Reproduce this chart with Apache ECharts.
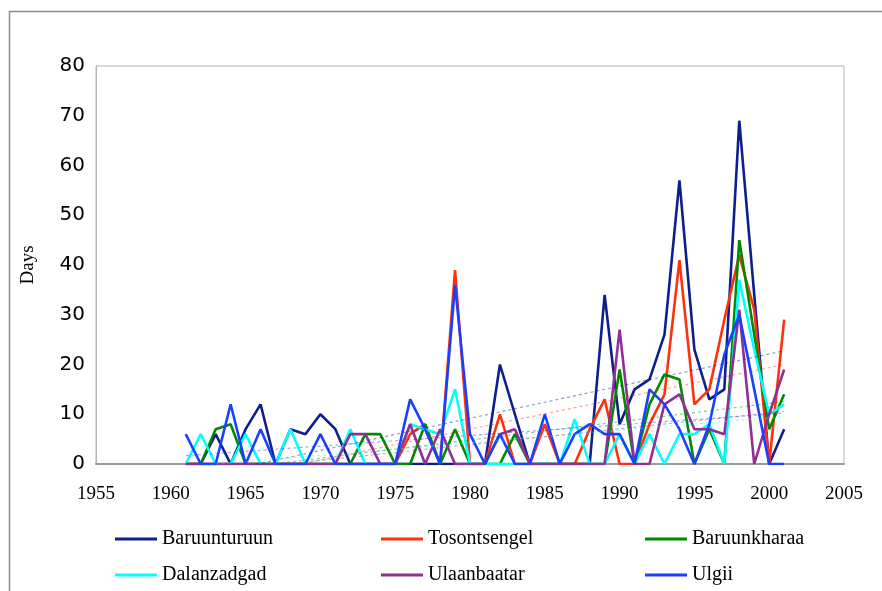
<!DOCTYPE html>
<html>
<head>
<meta charset="utf-8">
<script src="https://cdn.jsdelivr.net/npm/echarts@6/dist/echarts.min.js"></script>
<style>
  html, body { margin: 0; padding: 0; background: #fff; }
  #chart { width: 882px; height: 591px; }
</style>
</head>
<body>
<div id="chart"></div>
<script>
// Years of record (x axis)
const years = [1961, 1962, 1963, 1964, 1965, 1966, 1967, 1968, 1969, 1970,
  1971, 1972, 1973, 1974, 1975, 1976, 1977, 1978, 1979, 1980,
  1981, 1982, 1983, 1984, 1985, 1986, 1987, 1988, 1989, 1990,
  1991, 1992, 1993, 1994, 1995, 1996, 1997, 1998, 1999, 2000, 2001];

// Days per year at each station
const baruunturuun = [0, 0, 6, 0, 7, 12, 0, 7, 6, 10,
  7, 0, 0, 0, 0, 0, 0, 0, 0, 0,
  0, 20, 10, 0, 0, 0, 0, 0, 34, 8,
  15, 17, 26, 57, 23, 13, 15, 69, 34, 0, 7];
const tosontsengel = [0, 0, 0, 0, 0, 0, 0, 0, 0, 0,
  0, 0, 0, 0, 0, 6, 8, 0, 39, 0,
  0, 10, 0, 0, 8, 0, 0, 7, 13, 0,
  0, 8, 14, 41, 12, 15, 29, 42, 31, 0, 29];
const baruunkharaa = [0, 0, 7, 8, 0, 0, 0, 0, 0, 0,
  0, 0, 6, 6, 0, 0, 8, 0, 7, 0,
  0, 0, 6, 0, 0, 0, 0, 0, 0, 19,
  0, 12, 18, 17, 0, 7, 0, 45, 26, 7, 14];
const dalanzadgad = [0, 6, 0, 0, 6, 0, 0, 7, 0, 0,
  0, 7, 0, 0, 0, 8, 7, 6, 15, 0,
  0, 0, 0, 0, 0, 0, 9, 0, 0, 6,
  0, 6, 0, 6, 6, 8, 0, 37, 23, 10, 12];
const ulaanbaatar = [0, 0, 0, 0, 0, 0, 0, 0, 0, 0,
  0, 6, 6, 0, 0, 8, 0, 7, 0, 0,
  0, 6, 7, 0, 0, 0, 0, 0, 0, 27,
  0, 0, 12, 14, 7, 7, 6, 31, 0, 10, 19];
const ulgii = [6, 0, 0, 12, 0, 7, 0, 0, 0, 6,
  0, 0, 0, 0, 0, 13, 7, 0, 36, 6,
  0, 6, 0, 0, 10, 0, 6, 8, 6, 6,
  0, 15, 12, 7, 0, 8, 22, 30, 15, 0, 0];

const stationNames = ['Baruunturuun', 'Tosontsengel', 'Baruunkharaa', 'Dalanzadgad', 'Ulaanbaatar', 'Ulgii'];
const stationValues = [baruunturuun, tosontsengel, baruunkharaa, dalanzadgad, ulaanbaatar, ulgii];
const stationColors = ['#0c1f8c', '#ff3010', '#008a00', '#00ffff', '#922f92', '#1a40ff'];

// Least-squares linear trend over the record period
function linearTrend(xs, ys) {
  const n = xs.length;
  let sx = 0, sy = 0, sxx = 0, sxy = 0;
  for (let i = 0; i < n; i++) {
    sx += xs[i]; sy += ys[i]; sxx += xs[i] * xs[i]; sxy += xs[i] * ys[i];
  }
  const b = (n * sxy - sx * sy) / (n * sxx - sx * sx);
  const a = (sy - b * sx) / n;
  const x0 = xs[0], x1 = xs[n - 1];
  return [[x0, a + b * x0], [x1, a + b * x1]];
}

const serif = 'Liberation Serif, Times New Roman, serif';

const series = [];
// faint dashed trend lines
stationNames.forEach((name, i) => {
  series.push({
    name: name + ' trend',
    type: 'line',
    data: linearTrend(years, stationValues[i]),
    symbol: 'none',
    silent: true,
    z: 3,
    lineStyle: { color: stationColors[i], width: 1.2, type: [3, 3], opacity: 0.45 }
  });
});
stationNames.forEach((name, i) => {
  series.push({
    name: name,
    type: 'line',
    data: years.map((y, k) => [y, stationValues[i][k]]),
    symbol: 'none',
    z: 2,
    color: stationColors[i],
    lineStyle: { color: stationColors[i], width: 2.6 }
  });
});

const legendPos = [
  [115, 529], [381, 529], [645, 529],
  [115, 565], [381, 565], [645, 565]
];
const legends = stationNames.map((name, i) => ({
  data: [name],
  left: legendPos[i][0],
  top: legendPos[i][1],
  padding: 0,
  icon: 'rect',
  itemWidth: 42,
  itemHeight: 3,
  selectedMode: false,
  textStyle: { fontFamily: serif, fontSize: 20, color: '#000' }
}));

const chart = echarts.init(document.getElementById('chart'), null, { renderer: 'canvas' });
chart.setOption({
  backgroundColor: '#fff',
  animation: false,
  graphic: [{
    type: 'rect',
    left: 7, top: 9,
    shape: { width: 900, height: 620 },
    style: { fill: 'none', stroke: '#8c8c8c', lineWidth: 1.5 },
    silent: true
  }],
  grid: {
    left: 96, right: 38, top: 66, bottom: 127,
    show: true, borderColor: '#b4b4b4', borderWidth: 1, backgroundColor: 'transparent'
  },
  legend: legends,
  xAxis: {
    type: 'value',
    min: 1955, max: 2005, interval: 5,
    axisLine: { show: true, lineStyle: { color: '#9a9a9a', width: 2 } },
    axisTick: { show: false },
    splitLine: { show: false },
    axisLabel: {
      fontFamily: serif, fontSize: 19, color: '#000', margin: 21,
      formatter: (v) => String(v)
    }
  },
  yAxis: {
    type: 'value',
    min: 0, max: 80, interval: 10,
    name: 'Days',
    nameLocation: 'middle',
    nameRotate: 90,
    nameGap: 58,
    nameTextStyle: { fontFamily: serif, fontSize: 19, color: '#000' },
    axisLine: { show: true, lineStyle: { color: '#b4b4b4', width: 1 } },
    axisTick: { show: false },
    splitLine: { show: false },
    axisLabel: { fontFamily: 'DejaVu Sans, Verdana, sans-serif', fontSize: 20, color: '#000', margin: 11 }
  },
  series: series
});
</script>
</body>
</html>
